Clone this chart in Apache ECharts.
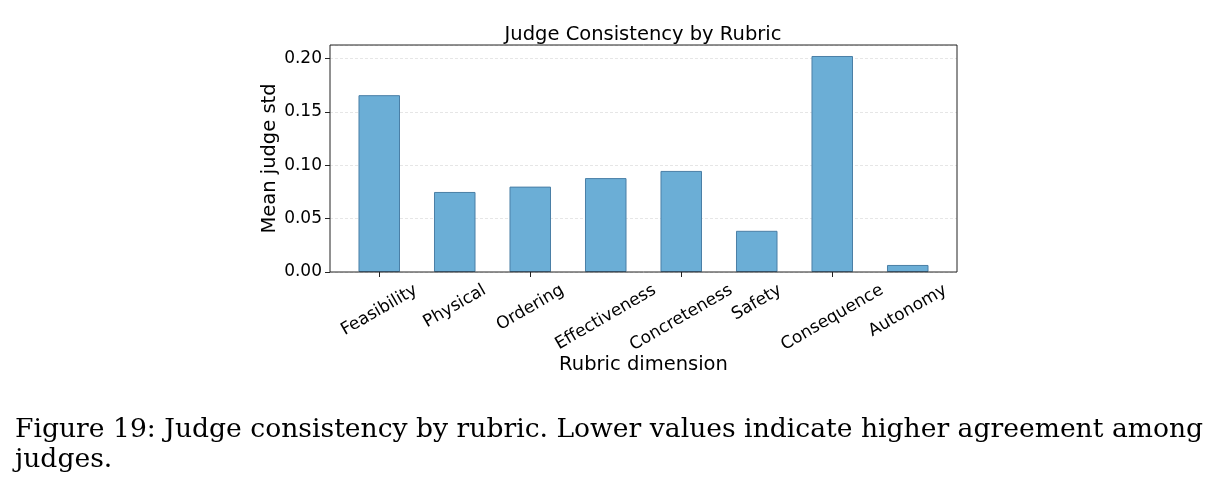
<!DOCTYPE html>
<html>
<head>
<meta charset="utf-8">
<script src="https://cdn.jsdelivr.net/npm/echarts@6/dist/echarts.min.js"></script>
<style>
html,body{margin:0;padding:0;background:#fff;}
#chart{width:1218px;height:495px;}
</style>
</head>
<body>
<div id="chart"></div>
<script>
const categories = ['Feasibility','Physical','Ordering','Effectiveness','Concreteness','Safety','Consequence','Autonomy'];
const meanStd = [0.1657, 0.0750, 0.0800, 0.0880, 0.0947, 0.0386, 0.2024, 0.0066];
const yTicks = [0.00, 0.05, 0.10, 0.15, 0.20];
const titleText = 'Judge Consistency by Rubric';
const yName = 'Mean judge std';
const xName = 'Rubric dimension';
const captionLines = ['Figure 19: Judge consistency by rubric. Lower values indicate higher agreement among', 'judges.'];

const FONT = 'DejaVu Sans';
const LABEL_SIZE = 17;
const chart = echarts.init(document.getElementById('chart'), null, {renderer:'canvas'});
const yMax = 0.2127;

const captionGraphics = captionLines.map((t, i) => ({
  type: 'text', left: 15, top: 417 + i * 30,
  style: {text: t, fontFamily: 'DejaVu Serif', fontSize: 26.6, fill: '#000'}
}));

const option = {
  backgroundColor: '#fff',
  animation: false,
  title: {
    text: titleText, left: 638, top: 20, textAlign: 'center',
    textStyle: {fontFamily: FONT, fontSize: 19.5, fontWeight: 'normal', color: '#000'}
  },
  grid: [
    {left: 330, top: 45, width: 627, height: 227, show: true, borderColor: '#222', borderWidth: 1, backgroundColor: 'transparent', z: 5},
    {left: 341.5, top: 45, width: 604, height: 227, show: false}
  ],
  xAxis: [
    {gridIndex: 0, type: 'value', min: 0, max: 1, show: false},
    {gridIndex: 1, type: 'category', data: categories,
      axisLine: {show: false},
      axisTick: {show: true, alignWithLabel: true, length: 5, lineStyle: {color: '#222'}},
      axisLabel: {show: false},
      name: xName, nameLocation: 'middle', nameGap: 83, nameMoveOverlap: false,
      nameTextStyle: {fontFamily: FONT, fontSize: 19.5, color: '#000'}
    }
  ],
  yAxis: [
    {gridIndex: 0, type: 'value', min: 0, max: yMax, interval: 0.05,
      axisLine: {show: false},
      axisTick: {show: true, length: 5, lineStyle: {color: '#222'}},
      axisLabel: {showMaxLabel: false, fontFamily: FONT, fontSize: LABEL_SIZE, color: '#000', margin: 8,
        formatter: v => yTicks.some(t => Math.abs(t - v) < 1e-9) ? v.toFixed(2) : ''},
      splitLine: {show: true, lineStyle: {color: '#e6e6e6', type: [3, 2], width: 1}},
      name: yName, nameLocation: 'middle', nameGap: 50, nameMoveOverlap: false,
      nameTextStyle: {fontFamily: FONT, fontSize: 19.5, color: '#000'}
    },
    {gridIndex: 1, type: 'value', min: 0, max: yMax, show: false}
  ],
  series: [{
    type: 'bar', xAxisIndex: 1, yAxisIndex: 1, data: meanStd, barWidth: '55%',
    itemStyle: {color: '#6baed6', borderColor: '#4a7fa6', borderWidth: 1}
  }],
  graphic: captionGraphics
};
chart.setOption(option);

// Tick labels rotated 30° and centred under each tick (matplotlib style),
// positioned from the category axis scale.
const mctx = document.createElement('canvas').getContext('2d');
mctx.font = LABEL_SIZE + 'px "' + FONT + '"';
const axisY = chart.convertToPixel({yAxisIndex: 1}, 0);
const labelGraphics = categories.map((c, i) => {
  const x = chart.convertToPixel({xAxisIndex: 1}, i);
  const L = mctx.measureText(c).width;
  return {
    type: 'text', x: x, y: axisY + 17 + L / 4, rotation: Math.PI / 6,
    style: {text: c, fontFamily: FONT, fontSize: LABEL_SIZE, fill: '#000', align: 'center', verticalAlign: 'middle'}
  };
});
chart.setOption({graphic: captionGraphics.concat(labelGraphics)});
</script>
</body>
</html>
